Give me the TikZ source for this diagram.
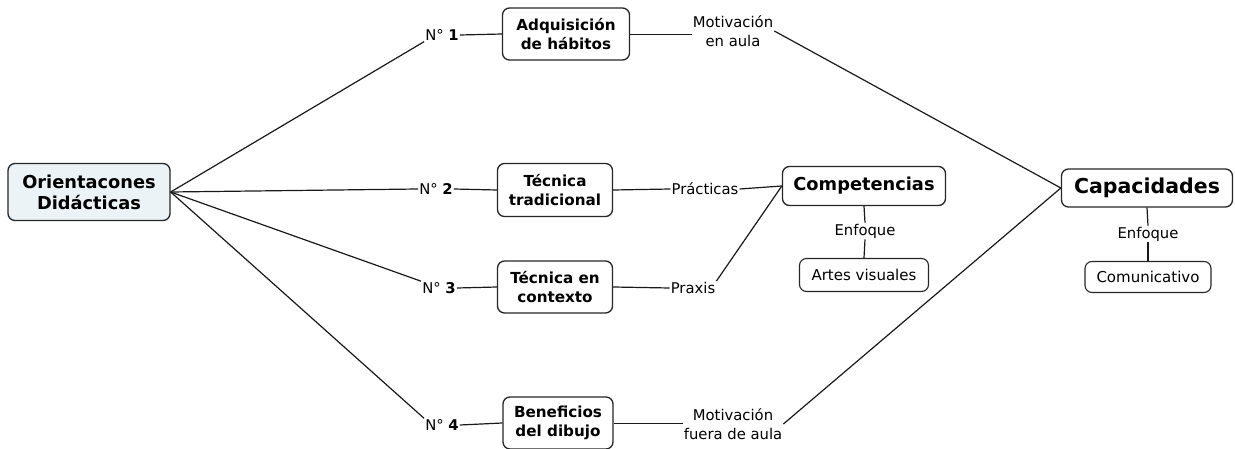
\documentclass[tikz,border=0pt]{standalone}
\usepackage{fontspec}
\setmainfont{DejaVu Sans}
\definecolor{obg}{RGB}{236,243,246}
\begin{document}
\begin{tikzpicture}[x=1pt,y=-1pt,
  box/.style={draw=black!85,line width=1.3pt,rounded corners=7pt,fill=white,align=center,inner sep=0pt,font=\fontsize{15.2}{19}\selectfont\bfseries},
  leaf/.style={draw=black!85,line width=1.1pt,rounded corners=7pt,fill=white,align=center,inner sep=0pt,font=\fontsize{15}{17}\selectfont},
  lbl/.style={align=center,inner sep=1pt,font=\fontsize{14.8}{19}\selectfont},
  conn/.style={line width=1.2pt,black!90}]
\useasboundingbox (0,0) rectangle (1235,449);
% main nodes
\node[box,fill=obg,minimum width=162pt,minimum height=57pt,font=\fontsize{17.8}{21}\selectfont\bfseries] (O) at (89,192) {Orientacones\\Didácticas};
\node[box,minimum width=127pt,minimum height=52pt] (A) at (566,34) {Adquisición\\de hábitos};
\node[box,minimum width=115pt,minimum height=53pt] (T) at (555,190) {Técnica\\tradicional};
\node[box,minimum width=115pt,minimum height=52pt] (C) at (555,287) {Técnica en\\contexto};
\node[box,minimum width=110pt,minimum height=52pt] (B) at (558,423) {Beneficios\\del dibujo};
\node[box,minimum width=163pt,minimum height=39pt,font=\fontsize{17.8}{20}\selectfont\bfseries] (Comp) at (864,186) {Competencias};
\node[box,minimum width=171pt,minimum height=38pt,font=\fontsize{20.5}{22}\selectfont\bfseries] (Cap) at (1147,188) {Capacidades};
\node[leaf,minimum width=129pt,minimum height=33pt] (Artes) at (864,275) {Artes visuales};
\node[leaf,minimum width=126pt,minimum height=31pt] (Comu) at (1148,277) {Comunicativo};
% labels
\node[lbl] (n1) at (442,35) {N° \textbf{1}};
\node[lbl] (n2) at (436,189) {N° \textbf{2}};
\node[lbl] (n3) at (439,288) {N° \textbf{3}};
\node[lbl] (n4) at (442,425) {N° \textbf{4}};
\node[lbl] (m1) at (733,31) {Motivación\\en aula};
\node[lbl] (m4) at (733,424) {Motivación\\fuera de aula};
\node[lbl] (pr) at (705,189) {Prácticas};
\node[lbl] (px) at (693,288) {Praxis};
\node[lbl,fill=white] (e1) at (865,231) {Enfoque};
\node[lbl,fill=white] (e2) at (1148,234) {Enfoque};
% connectors
\draw[conn] (O.east) -- (n1.south west);
\draw[conn] (O.east) -- (n2.west);
\draw[conn] (O.east) -- (n3.north west);
\draw[conn] (O.east) -- (n4.north west);
\draw[conn] (n1.east) -- (A.west);
\draw[conn] (n2.east) -- (T.west);
\draw[conn] (n3.east) -- (C.west);
\draw[conn] (n4.east) -- (B.west);
\draw[conn] ([yshift=-0.5pt]A.east) -- ([yshift=-0.5pt]m1.west |- A.east);
\draw[conn] (T.east) -- (pr.west);
\draw[conn] (C.east) -- (px.west);
\draw[conn] ([yshift=-0.5pt]B.east) -- ([yshift=-0.5pt]m4.west |- B.east);
\draw[conn] (pr.east) -- (Comp.west);
\draw[conn] (px.north east) -- (Comp.west);
\draw[conn] (m1.east) -- (Cap.west);
\draw[conn] (m4.east) -- (Cap.west);
\draw[conn] (Comp.south) -- (e1.north);
\draw[conn] (e1.south) -- (Artes.north);
\draw[conn] (Cap.south) -- (e2.north);
\draw[conn] (e2.south) -- (Comu.north);
\end{tikzpicture}
\end{document}
